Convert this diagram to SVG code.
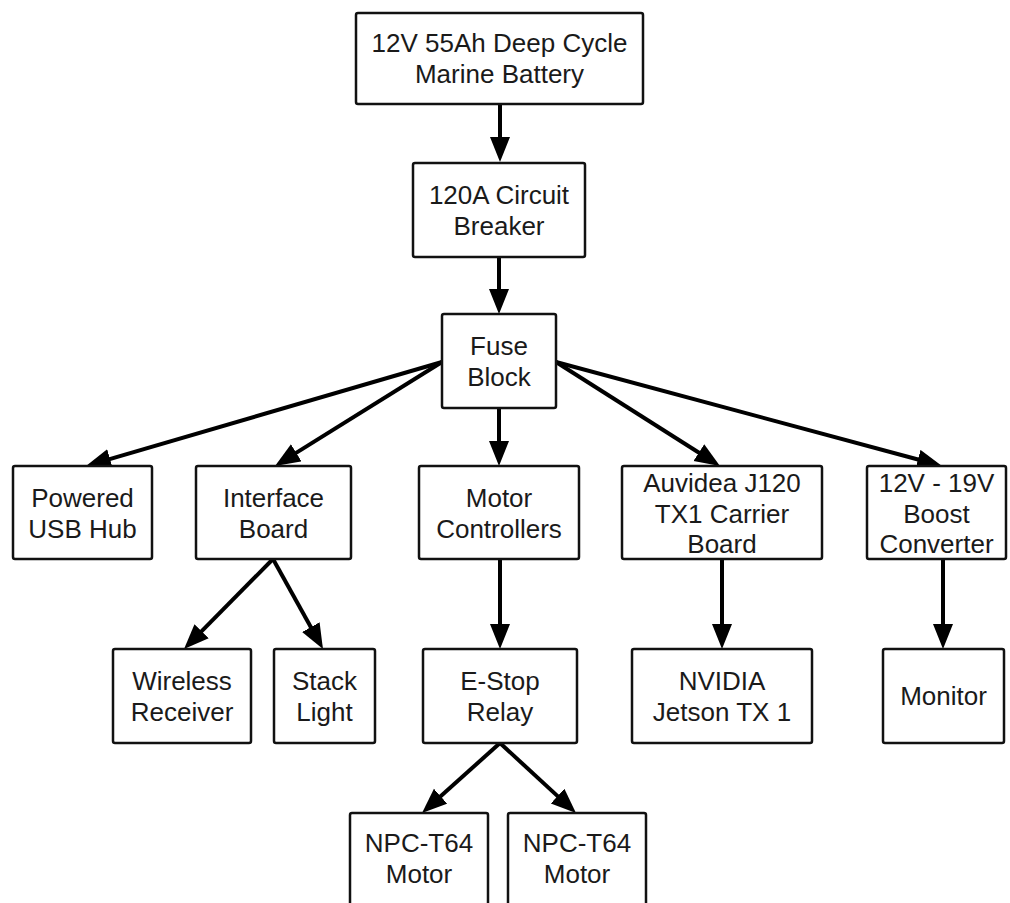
<svg xmlns="http://www.w3.org/2000/svg" width="1010" height="903" viewBox="0 0 1010 903">
<style>
.box{fill:#fff;stroke:#111;stroke-width:2.5}
.t{font-family:"Liberation Sans",Arial,sans-serif;font-size:26px;fill:#1a1a1a;text-anchor:middle}
.c{stroke:#000;stroke-width:4;fill:none}
</style>
<defs>
<marker id="ah" markerUnits="userSpaceOnUse" markerWidth="26" markerHeight="22" refX="3" refY="10" orient="auto">
<path d="M0,0 L25,10 L0,20 z" fill="#000"/>
</marker>
</defs>
<rect width="1010" height="903" fill="#fff"/>
<g id="connectors" class="c" marker-end="url(#ah)">
<line x1="500" y1="104" x2="500" y2="140"/>
<line x1="499" y1="257" x2="499" y2="292"/>
<line x1="499" y1="408" x2="499" y2="444"/>
<line x1="442" y1="362" x2="107.1" y2="459.8"/>
<line x1="442" y1="362" x2="293.7" y2="454.4"/>
<line x1="556" y1="362" x2="701.4" y2="454.2"/>
<line x1="556" y1="362" x2="920.8" y2="460.3"/>
<line x1="273" y1="559" x2="199.5" y2="633.4"/>
<line x1="273" y1="559" x2="312.3" y2="629.8"/>
<line x1="500" y1="559" x2="500" y2="627"/>
<line x1="722" y1="559" x2="722" y2="627"/>
<line x1="943" y1="559" x2="943" y2="627"/>
<line x1="500" y1="743" x2="438.4" y2="798.3"/>
<line x1="500" y1="743" x2="559.8" y2="798.1"/>
</g>
<g id="battery"><rect class="box" x="356" y="13" width="287" height="91" rx="2"/><text class="t" x="499.5" y="52">12V 55Ah Deep Cycle</text><text class="t" x="499.5" y="83">Marine Battery</text></g>
<g id="breaker"><rect class="box" x="413" y="163" width="172" height="94" rx="2"/><text class="t" x="499" y="204">120A Circuit</text><text class="t" x="499" y="235">Breaker</text></g>
<g id="fuse"><rect class="box" x="442" y="314" width="114" height="94" rx="2"/><text class="t" x="499" y="355">Fuse</text><text class="t" x="499" y="386">Block</text></g>
<g id="usbhub"><rect class="box" x="13" y="466" width="139" height="93" rx="2"/><text class="t" x="82.5" y="507">Powered</text><text class="t" x="82.5" y="538">USB Hub</text></g>
<g id="interface"><rect class="box" x="196" y="466" width="155" height="93" rx="2"/><text class="t" x="273.5" y="507">Interface</text><text class="t" x="273.5" y="538">Board</text></g>
<g id="motorctrl"><rect class="box" x="419" y="466" width="160" height="93" rx="2"/><text class="t" x="499" y="507">Motor</text><text class="t" x="499" y="538">Controllers</text></g>
<g id="auvidea"><rect class="box" x="622" y="466" width="200" height="93" rx="2"/><text class="t" x="722" y="492">Auvidea J120</text><text class="t" x="722" y="522.5">TX1 Carrier</text><text class="t" x="722" y="553">Board</text></g>
<g id="boost"><rect class="box" x="867" y="466" width="139" height="93" rx="2"/><text class="t" x="936.5" y="492">12V - 19V</text><text class="t" x="936.5" y="522.5">Boost</text><text class="t" x="936.5" y="553">Converter</text></g>
<g id="wireless"><rect class="box" x="113" y="649" width="138" height="94" rx="2"/><text class="t" x="182" y="690">Wireless</text><text class="t" x="182" y="721">Receiver</text></g>
<g id="stacklight"><rect class="box" x="274" y="649" width="101" height="94" rx="2"/><text class="t" x="324.5" y="690">Stack</text><text class="t" x="324.5" y="721">Light</text></g>
<g id="estop"><rect class="box" x="423" y="649" width="154" height="94" rx="2"/><text class="t" x="500" y="690">E-Stop</text><text class="t" x="500" y="721">Relay</text></g>
<g id="nvidia"><rect class="box" x="632" y="649" width="180" height="94" rx="2"/><text class="t" x="722" y="690">NVIDIA</text><text class="t" x="722" y="721">Jetson TX 1</text></g>
<g id="monitor"><rect class="box" x="883" y="649" width="121" height="94" rx="2"/><text class="t" x="943.5" y="705">Monitor</text></g>
<g id="motor1"><rect class="box" x="350" y="813" width="138" height="100" rx="2"/><text class="t" x="419" y="852">NPC-T64</text><text class="t" x="419" y="883">Motor</text></g>
<g id="motor2"><rect class="box" x="508" y="813" width="138" height="100" rx="2"/><text class="t" x="577" y="852">NPC-T64</text><text class="t" x="577" y="883">Motor</text></g>
</svg>
